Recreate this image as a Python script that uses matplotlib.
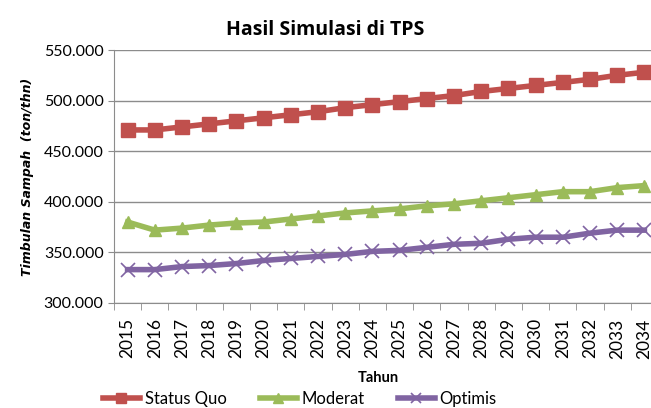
import matplotlib
matplotlib.use("Agg")
import matplotlib.pyplot as plt
from matplotlib.ticker import FuncFormatter, FixedLocator

years = [str(y) for y in range(2015, 2035)]
status_quo = [471000, 471000, 474000, 477000, 480000, 483000, 486000, 489000, 493000, 496000,
              499000, 502000, 505000, 509000, 512000, 515000, 518000, 521000, 525000, 528000]
moderat = [380000, 372000, 374000, 377000, 379000, 380000, 383000, 386000, 389000, 391000,
           393000, 396000, 398000, 401000, 404000, 407000, 410000, 410000, 414000, 416000]
optimis = [333000, 333000, 336000, 337000, 339000, 342000, 344000, 346000, 348000, 351000,
           352000, 355000, 358000, 359000, 363000, 365000, 365000, 369000, 372000, 372000]

plt.rcParams['font.family'] = ['Lato', 'DejaVu Sans']

fig = plt.figure(figsize=(6.51, 4.08), dpi=100)
ax = fig.add_axes([114 / 651, 1 - 303 / 408, 544 / 651, 253 / 408])

x = list(range(len(years)))
ax.plot(x, status_quo, color='#C0504D', lw=4, marker='s', ms=10, label='Status Quo', zorder=3)
ax.plot(x, moderat, color='#9BBB59', lw=4, marker='^', ms=9, label='Moderat', zorder=3)
ax.plot(x, optimis, color='#8064A2', lw=4, marker='x', ms=10, mew=1.2, label='Optimis', zorder=3)

ax.set_xlim(-0.5, len(years) - 0.5)
ax.set_ylim(300000, 550000)
ax.set_yticks(range(300000, 550001, 50000))
ax.yaxis.set_major_formatter(FuncFormatter(lambda v, p: f"{int(v):,}".replace(',', '.')))
ax.grid(axis='y', color='#8c8c8c', lw=1)
ax.set_axisbelow(True)

ax.set_xticks(x)
ax.set_xticklabels(years, rotation=90, fontsize=12.5)
ax.tick_params(axis='x', which='major', length=0, pad=11)
ax.xaxis.set_minor_locator(FixedLocator([i + 0.5 for i in range(-1, len(years))]))
ax.tick_params(axis='x', which='minor', length=5, color='#8c8c8c')
ax.tick_params(axis='y', labelsize=11.5, length=4, color='#8c8c8c')

for s in ['top', 'right']:
    ax.spines[s].set_visible(False)
for s in ['left', 'bottom']:
    ax.spines[s].set_color('#8c8c8c')

ax.set_title('Hasil Simulasi di TPS', fontsize=14, fontweight='bold', family='Open Sans',
             pad=11, x=(325 - 114) / 544)
ax.set_xlabel('Tahun', fontsize=10.5, fontweight='bold', labelpad=9, x=(378 - 114) / 544)
ax.set_ylabel('Timbulan Sampah  (ton/thn)', fontsize=9, fontweight='bold', style='italic',
              family='DejaVu Sans', labelpad=7)

fig.legend(loc='lower left', bbox_to_anchor=(88 / 651, -0.035), ncol=3, frameon=False,
           fontsize=12, handlelength=2.2, columnspacing=2.0, handletextpad=0.3, markerscale=0.75)

fig.savefig('out.png', dpi=100)
